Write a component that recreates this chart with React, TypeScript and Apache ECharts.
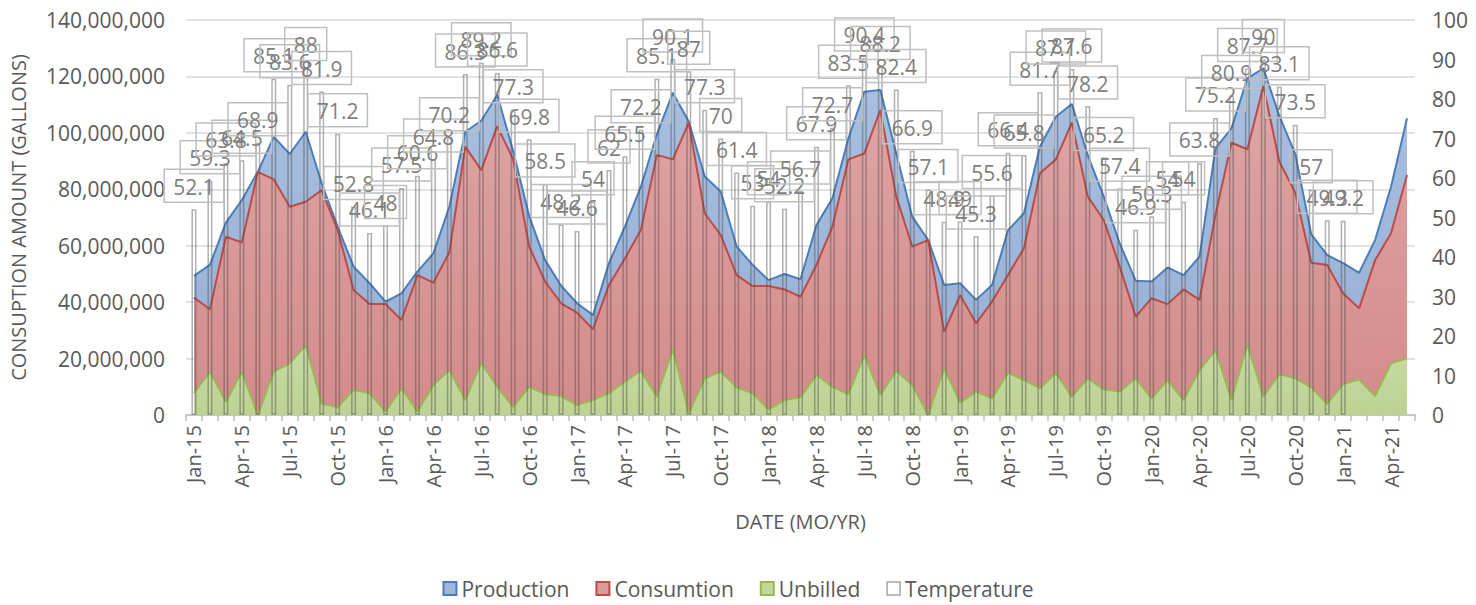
import React, { useEffect, useRef } from "react";
import * as echarts from "echarts";

const categories = [
  "Jan-15","Feb-15","Mar-15","Apr-15","May-15","Jun-15","Jul-15","Aug-15","Sep-15","Oct-15","Nov-15","Dec-15",
  "Jan-16","Feb-16","Mar-16","Apr-16","May-16","Jun-16","Jul-16","Aug-16","Sep-16","Oct-16","Nov-16","Dec-16",
  "Jan-17","Feb-17","Mar-17","Apr-17","May-17","Jun-17","Jul-17","Aug-17","Sep-17","Oct-17","Nov-17","Dec-17",
  "Jan-18","Feb-18","Mar-18","Apr-18","May-18","Jun-18","Jul-18","Aug-18","Sep-18","Oct-18","Nov-18","Dec-18",
  "Jan-19","Feb-19","Mar-19","Apr-19","May-19","Jun-19","Jul-19","Aug-19","Sep-19","Oct-19","Nov-19","Dec-19",
  "Jan-20","Feb-20","Mar-20","Apr-20","May-20","Jun-20","Jul-20","Aug-20","Sep-20","Oct-20","Nov-20","Dec-20",
  "Jan-21","Feb-21","Mar-21","Apr-21","May-21",
];

// values in millions of gallons
const productionMG = [
  49.3, 53.2, 68.2, 76.2, 86.2, 98.6, 92.5, 100.4, 82.1, 66.8, 52.6, 46.7,
  40.2, 43.1, 50.8, 57.3, 73.8, 100.4, 104.3, 113.4, 93.5, 70.5, 54.9, 45.8,
  39.6, 35.4, 53.8, 66.8, 80.9, 99.5, 114.2, 104.0, 84.5, 79.2, 59.7, 53.2,
  47.8, 50.0, 48.1, 67.3, 76.8, 98.0, 114.6, 115.2, 92.7, 70.3, 62.0, 46.1,
  46.7, 40.8, 46.1, 65.5, 71.5, 95.1, 105.7, 110.2, 92.0, 77.4, 60.8, 47.6,
  47.3, 52.3, 49.6, 56.1, 94.5, 101.6, 119.3, 122.9, 106.0, 92.5, 64.0, 56.7,
  53.8, 50.4, 62.0, 80.9, 105.2,
];

const consumptionMG = [
  41.6, 37.5, 63.2, 61.2, 86.2, 83.5, 73.8, 75.6, 79.7, 65.6, 44.3, 39.3,
  39.3, 33.7, 49.6, 46.9, 57.7, 95.1, 86.8, 102.4, 90.6, 59.7, 47.3, 39.6,
  36.3, 30.4, 46.1, 55.5, 65.6, 92.2, 90.6, 103.6, 71.5, 63.8, 49.6, 45.7,
  45.7, 44.5, 41.9, 53.2, 66.8, 90.6, 92.7, 108.1, 77.4, 59.7, 62.0, 29.5,
  42.5, 32.5, 40.2, 49.6, 59.1, 85.7, 90.6, 103.6, 77.4, 69.1, 52.6, 34.9,
  41.4, 39.3, 44.5, 40.8, 71.0, 96.5, 94.2, 116.6, 89.8, 78.8, 54.0, 53.2,
  43.1, 37.8, 54.9, 64.4, 85.1,
];

const unbilledMG = [
  7.7, 15.4, 4.7, 15.4, 0.0, 15.4, 18.3, 24.8, 4.1, 2.7, 8.9, 7.7,
  1.2, 9.5, 1.2, 10.6, 15.9, 5.3, 18.5, 10.0, 2.9, 10.0, 7.4, 6.7,
  3.5, 5.3, 7.7, 11.8, 15.7, 6.5, 23.3, 0.6, 13.0, 15.4, 9.8, 7.7,
  2.0, 5.3, 6.3, 14.2, 10.0, 7.4, 21.3, 7.1, 15.7, 10.6, 0.0, 16.5,
  4.4, 8.3, 5.9, 15.0, 12.4, 9.5, 14.8, 6.5, 13.0, 9.1, 8.3, 13.0,
  5.9, 12.4, 5.3, 15.9, 23.0, 5.3, 25.2, 6.5, 14.5, 13.0, 9.8, 3.9,
  11.0, 12.6, 6.7, 18.3, 20.1,
];

const temperature: (number | string)[] = [
  52.1, 59.3, 63.8, 64.5, 68.9, 85.1, 83.6, 88, 81.9, 71.2, 52.8, 46.1,
  48, 57.5, 60.6, 64.8, 70.2, 86.3, 89.2, 86.6, 77.3, 69.8, 58.5, 48.2,
  46.6, 54, 62, 65.5, 72.2, 85.1, 90.1, 87, 77.3, 70, 61.4, 53,
  54, 52.2, 56.7, 67.9, 72.7, 83.5, 90.4, 88.2, 82.4, 66.9, 57.1, 48.9,
  49, 45.3, 55.6, 66.4, 65.8, 81.7, 87.1, 87.6, 78.2, 65.2, 57.4, 46.9,
  50.3, 54, 54, 63.8, 75.2, 80.9, 87.7, 90, 83.1, 73.5, 57, 49.3,
  49.2, "-", "-", "-", "-",
];

const leftTicksMax = 140000000;
const leftTicksStep = 20000000;

const FONT = "'Open Sans', 'Noto Sans', sans-serif";

export default function App() {
  const ref = useRef<HTMLDivElement>(null);

  useEffect(() => {
    document.body.style.margin = "0";
    if (!ref.current) return;
    const chart = echarts.init(ref.current, undefined, { renderer: "svg" });
    const toGallons = (a: number[]) => a.map((v) => Math.round(v * 1e6));
    const grad = (top: string, bottom: string) =>
      new echarts.graphic.LinearGradient(0, 0, 0, 1, [
        { offset: 0, color: top },
        { offset: 1, color: bottom },
      ]);

    chart.setOption({
      animation: false,
      textStyle: { fontFamily: FONT },
      grid: { left: 183, right: 61, top: 20, bottom: 190, containLabel: false },
      legend: {
        bottom: 1,
        left: "center",
        itemWidth: 13,
        itemHeight: 13,
        itemGap: 26,
        textStyle: { fontSize: 21, color: "#595959", fontFamily: FONT },
        data: [
          { name: "Production", icon: "rect", itemStyle: { color: "#9fb6da", borderColor: "#4a7ebb", borderWidth: 2 } },
          { name: "Consumtion", icon: "rect", itemStyle: { color: "#d99a99", borderColor: "#be4b48", borderWidth: 2 } },
          { name: "Unbilled", icon: "rect", itemStyle: { color: "#c3d69b", borderColor: "#98b954", borderWidth: 2 } },
          { name: "Temperature", icon: "rect", itemStyle: { color: "#ffffff", borderColor: "#a6a6a6", borderWidth: 1.5 } },
        ],
      },
      xAxis: {
        type: "category",
        data: categories,
        boundaryGap: true,
        name: "DATE (MO/YR)",
        nameLocation: "middle",
        nameGap: 96,
        nameTextStyle: { fontSize: 20, color: "#595959", fontFamily: FONT },
        axisLine: { lineStyle: { color: "#bfbfbf", width: 1.5 } },
        axisTick: { show: true, interval: 0, length: 6, lineStyle: { color: "#bfbfbf", width: 1.5 } },
        axisLabel: { interval: 2, rotate: 90, fontSize: 20, color: "#595959", margin: 10, fontFamily: FONT },
        splitLine: { show: false },
      },
      yAxis: [
        {
          type: "value",
          min: 0,
          max: leftTicksMax,
          interval: leftTicksStep,
          name: "CONSUPTION AMOUNT (GALLONS)",
          nameLocation: "middle",
          nameGap: 158,
          nameTextStyle: { fontSize: 20, color: "#595959", fontFamily: FONT },
          axisLine: { show: false },
          axisTick: { show: false },
          axisLabel: {
            fontSize: 21,
            color: "#595959",
            margin: 21,
            fontFamily: FONT,
            formatter: (v: number) => v.toLocaleString("en-US"),
          },
          splitLine: { lineStyle: { color: "#d9d9d9", width: 1.5 } },
        },
        {
          type: "value",
          min: 0,
          max: 100,
          interval: 10,
          axisLine: { show: false },
          axisTick: { show: false },
          axisLabel: { fontSize: 21, color: "#595959", margin: 17, fontFamily: FONT },
          splitLine: { show: false },
        },
      ],
      series: [
        {
          name: "Production",
          type: "line",
          data: toGallons(productionMG),
          symbol: "none",
          itemStyle: { color: "#9fb6da" },
          lineStyle: { color: "#4a7ebb", width: 2 },
          areaStyle: { color: grad("#a9c0e0", "#94aed4"), opacity: 1 },
          z: 1,
        },
        {
          name: "Consumtion",
          type: "line",
          data: toGallons(consumptionMG),
          symbol: "none",
          itemStyle: { color: "#d99a99" },
          lineStyle: { color: "#be4b48", width: 2 },
          areaStyle: { color: grad("#dea6a5", "#d38b8a"), opacity: 1 },
          z: 2,
        },
        {
          name: "Unbilled",
          type: "line",
          data: toGallons(unbilledMG),
          symbol: "none",
          itemStyle: { color: "#c3d69b" },
          lineStyle: { color: "#98b954", width: 2 },
          areaStyle: { color: grad("#c8dba4", "#bdd292"), opacity: 1 },
          z: 3,
        },
        {
          name: "Temperature",
          type: "bar",
          yAxisIndex: 1,
          data: temperature,
          barWidth: 5,
          itemStyle: { color: "rgba(0,0,0,0)", borderColor: "rgba(80,80,80,0.45)", borderWidth: 1.5 },
          label: {
            show: true,
            position: "top",
            distance: 7,
            formatter: "{c}",
            fontSize: 21,
            color: "#7f7f7f",
            fontFamily: FONT,
            borderColor: "#bfbfbf",
            borderWidth: 1.5,
            padding: [7, 9, 5, 9],
          },
          z: 4,
        },
      ],
    });
    return () => chart.dispose();
  }, []);

  return <div ref={ref} style={{ width: 1476, height: 605 }} />;
}
